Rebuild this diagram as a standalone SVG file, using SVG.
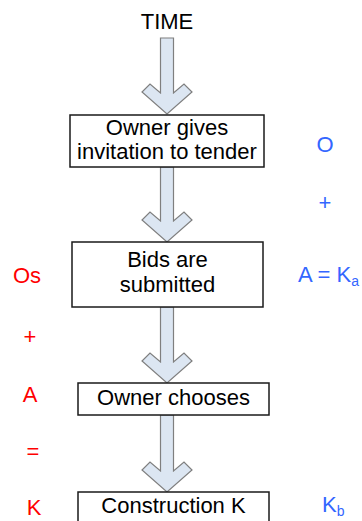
<svg xmlns="http://www.w3.org/2000/svg" width="362" height="521" viewBox="0 0 362 521">
<style>
.arr{fill:#DCE6F2;stroke:#7F7F7F;stroke-width:1.2;stroke-linejoin:miter}
.box{fill:#FFFFFF;stroke:#1A1A1A;stroke-width:1.5}
.t{font-family:"Liberation Sans",Arial,sans-serif;font-size:22px;fill:#000;text-anchor:middle}
.r{font-family:"Liberation Sans",Arial,sans-serif;font-size:22px;fill:#FF0000;text-anchor:middle}
.b{font-family:"Liberation Sans",Arial,sans-serif;font-size:22px;fill:#3366FF}
</style>
<rect width="362" height="521" fill="#FFFFFF"/>
<g id="connectors">
<polygon class="arr" points="160.5,38 173.5,38 173.5,93 184,84 192,92 167,114 142,92 150,84 160.5,93"/>
<polygon class="arr" points="160.5,167 173.5,167 173.5,221 184,212 192,220 167,242 142,220 150,212 160.5,221"/>
<polygon class="arr" points="160.5,307 173.5,307 173.5,362 184,353 192,361 167,383 142,361 150,353 160.5,362"/>
<polygon class="arr" points="160.5,415 173.5,415 173.5,471 184,462 192,470 167,492 142,470 150,462 160.5,471"/>
</g>
<g id="time"><text class="t" x="167" y="29">TIME</text></g>
<g id="n1">
<rect class="box" x="70" y="115" width="194" height="52"/>
<text class="t" x="167" y="135">Owner gives</text>
<text class="t" x="167" y="159">invitation to tender</text>
</g>
<g id="n2">
<rect class="box" x="72" y="242" width="191" height="65"/>
<text class="t" x="167.5" y="267">Bids are</text>
<text class="t" x="167.5" y="292">submitted</text>
</g>
<g id="n3">
<rect class="box" x="78" y="383" width="191" height="32"/>
<text class="t" x="173.5" y="405">Owner chooses</text>
</g>
<g id="n4">
<rect class="box" x="78" y="492" width="191" height="40"/>
<text class="t" x="173.5" y="513">Construction K</text>
</g>
<g id="left-labels">
<text class="r" x="27" y="283">Os</text>
<text class="r" x="30" y="344">+</text>
<text class="r" x="30" y="402">A</text>
<text class="r" x="33" y="459">=</text>
<text class="r" x="34" y="515">K</text>
</g>
<g id="right-labels">
<text class="b" x="325" y="152" text-anchor="middle">O</text>
<text class="b" x="325" y="210" text-anchor="middle">+</text>
<text class="b" x="298" y="282">A = K<tspan font-size="14" dy="4">a</tspan></text>
<text class="b" x="322" y="512">K<tspan font-size="14" dy="4">b</tspan></text>
</g>
</svg>
